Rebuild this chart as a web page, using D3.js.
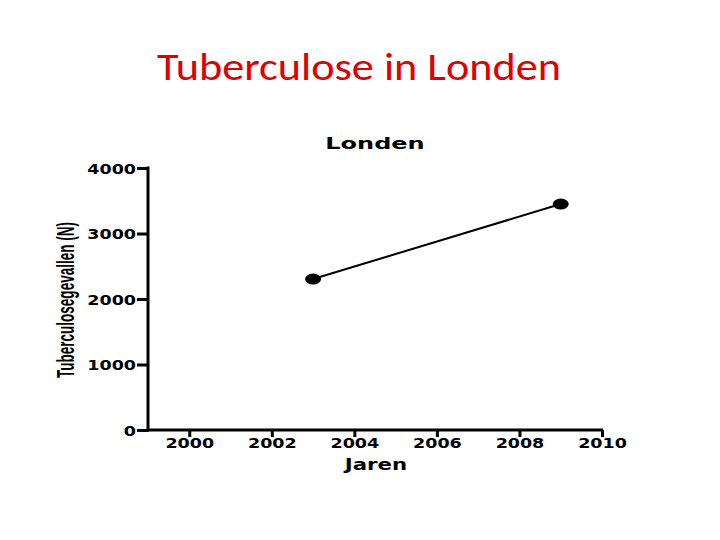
<!DOCTYPE html>
<html>
<head>
<meta charset="utf-8">
<script src="https://cdn.jsdelivr.net/npm/d3@7"></script>
<style>
  body { margin: 0; background: #fff; }
</style>
</head>
<body>
<svg id="chart" width="720" height="540"></svg>
<script>
// --- data ---
const years = [2003, 2009];
const cases = [2305, 3450];
const xTicks = [2000, 2002, 2004, 2006, 2008, 2010];
const yTicks = [0, 1000, 2000, 3000, 4000];

const svg = d3.select("#chart");
svg.append("rect").attr("width", 720).attr("height", 540).attr("fill", "#fff");

// slide title
svg.append("text")
  .attr("x", 359).attr("y", 80)
  .attr("text-anchor", "middle")
  .attr("font-family", "Carlito, 'Open Sans', sans-serif")
  .attr("font-size", 38)
  .attr("fill", "#e00000")
  .attr("textLength", 404).attr("lengthAdjust", "spacingAndGlyphs")
  .text("Tuberculose in Londen");

const x = d3.scaleLinear().domain([1999, 2010]).range([148, 602]);
const y = d3.scaleLinear().domain([0, 4000]).range([430, 168]);

const FONT = "'DejaVu Sans', Verdana, sans-serif";
const TICK_STRETCH = 1.25; // GraphPad text is stretched sideways

// x axis
const gx = svg.append("g").attr("transform", "translate(0,430)")
  .call(d3.axisBottom(x).tickValues(xTicks).tickFormat(d3.format("d"))
    .tickSize(7).tickSizeOuter(0));
gx.select(".domain").attr("stroke-width", 3).attr("d", "M146.5,0H603");
gx.selectAll(".tick line").attr("stroke-width", 3);
gx.selectAll(".tick text")
  .attr("y", 8).attr("dy", "0.71em")
  .attr("transform", `scale(${TICK_STRETCH},1)`)
  .attr("font-family", FONT)
  .attr("font-weight", "bold").attr("font-size", 14).attr("fill", "#000");

// y axis
const gy = svg.append("g").attr("transform", "translate(148,0)")
  .call(d3.axisLeft(y).tickValues(yTicks).tickFormat(d3.format("d"))
    .tickSize(11).tickSizeOuter(0));
gy.select(".domain").attr("stroke-width", 3).attr("d", "M0,166.5V431.5");
gy.selectAll(".tick line").attr("stroke-width", 3);
gy.selectAll(".tick text")
  .attr("x", -12 / TICK_STRETCH).attr("dy", "0.36em")
  .attr("transform", `scale(${TICK_STRETCH},1)`)
  .attr("font-family", FONT)
  .attr("font-weight", "bold").attr("font-size", 14).attr("fill", "#000");

// chart title
svg.append("text")
  .attr("transform", "translate(375,149) scale(1.5,1)")
  .attr("text-anchor", "middle")
  .attr("font-family", FONT)
  .attr("font-weight", "bold").attr("font-size", 16)
  .text("Londen");

// x label
svg.append("text")
  .attr("transform", "translate(376,470) scale(1.42,1)")
  .attr("text-anchor", "middle")
  .attr("font-family", FONT)
  .attr("font-weight", "bold").attr("font-size", 15)
  .text("Jaren");

// y label (condensed)
svg.append("text")
  .attr("transform", "translate(74,300) rotate(-90)")
  .attr("text-anchor", "middle")
  .attr("font-family", "'Liberation Sans Narrow', 'Liberation Sans', sans-serif")
  .attr("font-weight", "bold").attr("font-size", 23)
  .attr("textLength", 156).attr("lengthAdjust", "spacingAndGlyphs")
  .text("Tuberculosegevallen (N)");

// line + points
const pts = years.map((d, i) => [d, cases[i]]);
svg.append("path")
  .datum(pts)
  .attr("fill", "none").attr("stroke", "#000").attr("stroke-width", 2)
  .attr("d", d3.line().x(d => x(d[0])).y(d => y(d[1])));

svg.selectAll(".pt").data(pts).join("ellipse")
  .attr("class", "pt")
  .attr("cx", d => x(d[0])).attr("cy", d => y(d[1]))
  .attr("rx", 8).attr("ry", 5.5)
  .attr("fill", "#000");
</script>
</body>
</html>
